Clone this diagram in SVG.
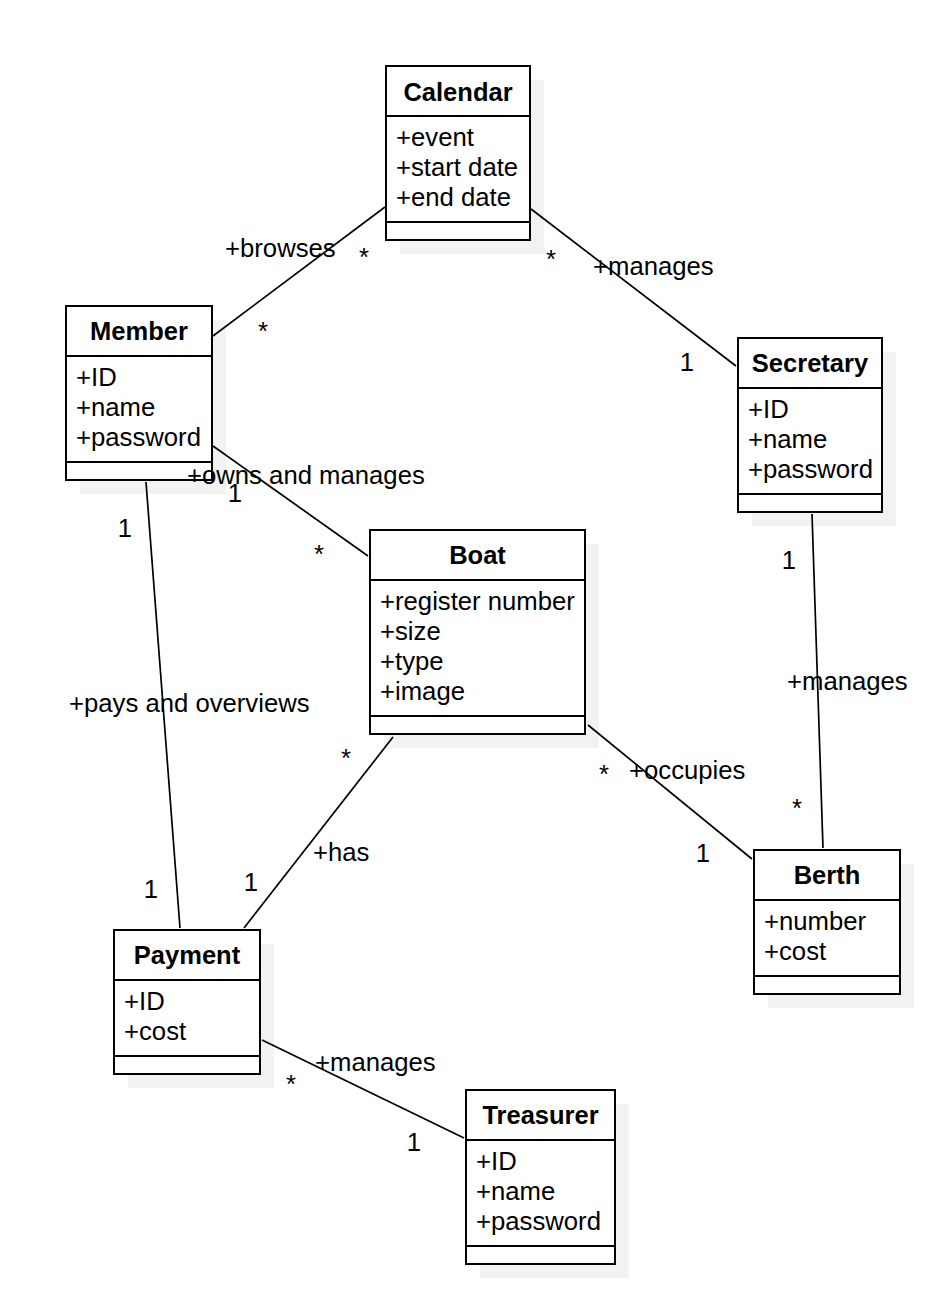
<svg xmlns="http://www.w3.org/2000/svg" width="940" height="1298" viewBox="0 0 940 1298">
<style>
.sh{fill:#f2f2f2;stroke:none}
.bx{fill:#ffffff;stroke:#000;stroke-width:2}
.dv{stroke:#000;stroke-width:2}
.t{font-family:"Liberation Sans",Arial,sans-serif;font-size:25.7px;fill:#000}
.tb{font-family:"Liberation Sans",Arial,sans-serif;font-size:25.5px;font-weight:bold;fill:#000;text-anchor:middle}
.c{stroke:#000;stroke-width:1.7;fill:none}
.m{text-anchor:middle}
</style>
<rect width="940" height="1298" fill="#ffffff"/>
<g id="calendar">
<rect class="sh" x="400" y="80" width="144" height="174"/>
<rect class="bx" x="386" y="66" width="144" height="174"/>
<line class="dv" x1="386" y1="116" x2="530" y2="116"/>
<line class="dv" x1="386" y1="222" x2="530" y2="222"/>
<text class="tb" x="458" y="101">Calendar</text>
<text class="t" x="396" y="146">+event</text>
<text class="t" x="396" y="176">+start date</text>
<text class="t" x="396" y="206">+end date</text>
</g>
<g id="member">
<rect class="sh" x="80" y="320" width="146" height="174"/>
<rect class="bx" x="66" y="306" width="146" height="174"/>
<line class="dv" x1="66" y1="356" x2="212" y2="356"/>
<line class="dv" x1="66" y1="462" x2="212" y2="462"/>
<text class="tb" x="139" y="340">Member</text>
<text class="t" x="76" y="386">+ID</text>
<text class="t" x="76" y="416">+name</text>
<text class="t" x="76" y="446">+password</text>
</g>
<g id="secretary">
<rect class="sh" x="752" y="352" width="144" height="174"/>
<rect class="bx" x="738" y="338" width="144" height="174"/>
<line class="dv" x1="738" y1="388" x2="882" y2="388"/>
<line class="dv" x1="738" y1="494" x2="882" y2="494"/>
<text class="tb" x="810" y="372">Secretary</text>
<text class="t" x="748" y="418">+ID</text>
<text class="t" x="748" y="448">+name</text>
<text class="t" x="748" y="478">+password</text>
</g>
<g id="boat">
<rect class="sh" x="384" y="544" width="215" height="204"/>
<rect class="bx" x="370" y="530" width="215" height="204"/>
<line class="dv" x1="370" y1="580" x2="585" y2="580"/>
<line class="dv" x1="370" y1="716" x2="585" y2="716"/>
<text class="tb" x="477.5" y="564">Boat</text>
<text class="t" x="380" y="610">+register number</text>
<text class="t" x="380" y="640">+size</text>
<text class="t" x="380" y="670">+type</text>
<text class="t" x="380" y="700">+image</text>
</g>
<g id="berth">
<rect class="sh" x="768" y="864" width="146" height="144"/>
<rect class="bx" x="754" y="850" width="146" height="144"/>
<line class="dv" x1="754" y1="900" x2="900" y2="900"/>
<line class="dv" x1="754" y1="976" x2="900" y2="976"/>
<text class="tb" x="827" y="884">Berth</text>
<text class="t" x="764" y="930">+number</text>
<text class="t" x="764" y="960">+cost</text>
</g>
<g id="payment">
<rect class="sh" x="128" y="944" width="146" height="144"/>
<rect class="bx" x="114" y="930" width="146" height="144"/>
<line class="dv" x1="114" y1="980" x2="260" y2="980"/>
<line class="dv" x1="114" y1="1056" x2="260" y2="1056"/>
<text class="tb" x="187" y="964">Payment</text>
<text class="t" x="124" y="1010">+ID</text>
<text class="t" x="124" y="1040">+cost</text>
</g>
<g id="treasurer">
<rect class="sh" x="480" y="1104" width="149" height="174"/>
<rect class="bx" x="466" y="1090" width="149" height="174"/>
<line class="dv" x1="466" y1="1140" x2="615" y2="1140"/>
<line class="dv" x1="466" y1="1246" x2="615" y2="1246"/>
<text class="tb" x="540.5" y="1124">Treasurer</text>
<text class="t" x="476" y="1170">+ID</text>
<text class="t" x="476" y="1200">+name</text>
<text class="t" x="476" y="1230">+password</text>
</g>
<g id="connectors">
<line class="c" x1="385" y1="207" x2="213" y2="336"/>
<line class="c" x1="531" y1="209" x2="736" y2="366"/>
<line class="c" x1="213" y1="446" x2="368" y2="556"/>
<line class="c" x1="146" y1="482" x2="180" y2="928"/>
<line class="c" x1="393" y1="737" x2="244" y2="928"/>
<line class="c" x1="588" y1="725" x2="752" y2="859"/>
<line class="c" x1="812" y1="514" x2="823" y2="848"/>
<line class="c" x1="262" y1="1040" x2="464" y2="1138"/>
<text class="t" x="225" y="257">+browses</text>
<text class="t m" x="364" y="266">*</text>
<text class="t m" x="263" y="340">*</text>
<text class="t m" x="551" y="268">*</text>
<text class="t" x="593" y="275">+manages</text>
<text class="t m" x="687" y="371">1</text>
<text class="t" x="187" y="484">+owns and manages</text>
<text class="t m" x="235" y="502">1</text>
<text class="t m" x="319" y="563">*</text>
<text class="t m" x="125" y="537">1</text>
<text class="t" x="69" y="712">+pays and overviews</text>
<text class="t m" x="151" y="898">1</text>
<text class="t m" x="346" y="767">*</text>
<text class="t" x="313" y="861">+has</text>
<text class="t m" x="251" y="891">1</text>
<text class="t m" x="604" y="783">*</text>
<text class="t" x="629" y="779">+occupies</text>
<text class="t m" x="703" y="862">1</text>
<text class="t m" x="789" y="569">1</text>
<text class="t" x="787" y="690">+manages</text>
<text class="t m" x="797" y="817">*</text>
<text class="t" x="315" y="1071">+manages</text>
<text class="t m" x="291" y="1093">*</text>
<text class="t m" x="414" y="1151">1</text>
</g>
</svg>
